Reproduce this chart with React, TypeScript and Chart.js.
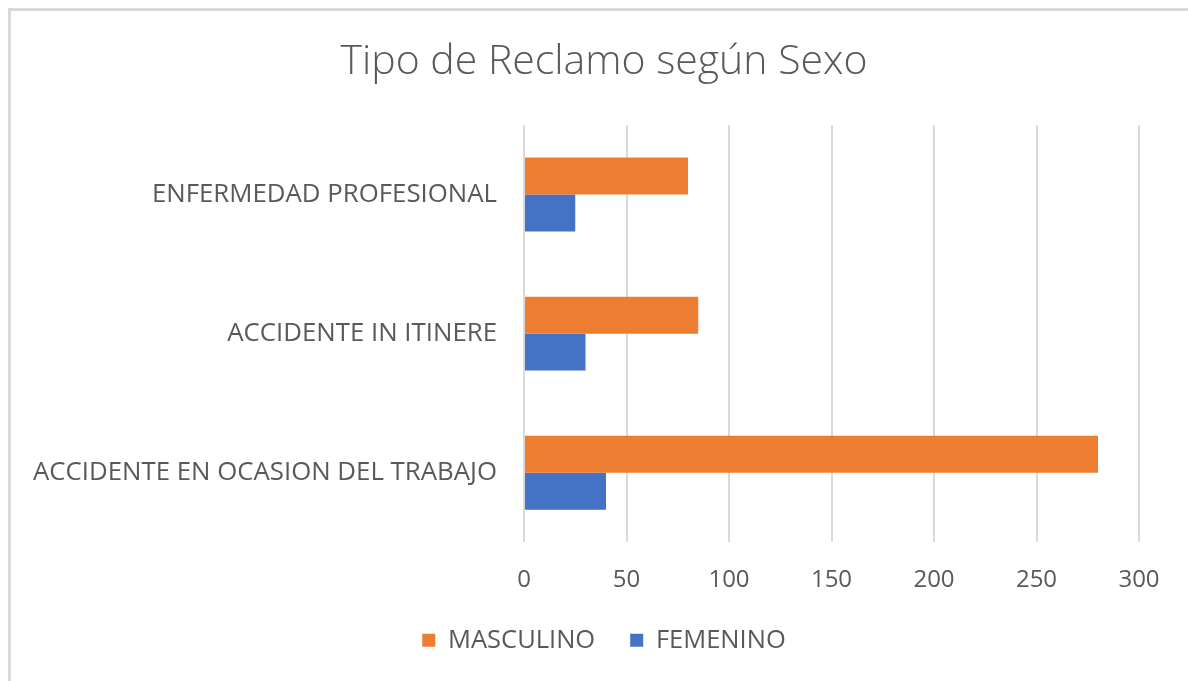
import React, { useEffect, useRef } from "react";
import { Chart, registerables } from "chart.js";

Chart.register(...registerables);

const titleText = "Tipo de Reclamo según Sexo";
const categories = ["ENFERMEDAD PROFESIONAL", "ACCIDENTE IN ITINERE", "ACCIDENTE EN OCASION DEL TRABAJO"];
const masculino = [80, 85, 280];
const femenino = [25, 30, 40];
const xTicks = [0, 50, 100, 150, 200, 250, 300];

const FONT = "'Open Sans', Lato, sans-serif";
const TEXT = "#595959";

export default function App() {
  const ref = useRef<HTMLCanvasElement | null>(null);
  useEffect(() => {
    if (!ref.current) return;
    const chart = new Chart(ref.current, {
      type: "bar",
      data: {
        labels: categories,
        datasets: [
          { label: "MASCULINO", data: masculino, backgroundColor: "#ED7D31", borderWidth: 0 },
          { label: "FEMENINO", data: femenino, backgroundColor: "#4472C4", borderWidth: 0 },
        ],
      },
      options: {
        indexAxis: "y",
        responsive: false,
        animation: false,
        maintainAspectRatio: false,
        datasets: { bar: { barPercentage: 1, categoryPercentage: 0.532 } },
        layout: { padding: { left: 0, right: 0, top: 0, bottom: 45 } },
        plugins: {
          title: {
            display: true,
            text: titleText,
            color: TEXT,
            font: { family: FONT, size: 41, weight: "300" },
            padding: { top: 29.4, bottom: 38.4 },
          },
          legend: {
            position: "bottom",
            labels: {
              color: TEXT,
              font: { family: FONT, size: 25.5 },
              boxWidth: 13,
              boxHeight: 13,
              padding: 35,
              generateLabels: (c: any) =>
                c.data.datasets.map((d: any, i: number) => ({
                  text: d.label,
                  fillStyle: d.backgroundColor,
                  strokeStyle: d.backgroundColor,
                  lineWidth: 0,
                  fontColor: TEXT,
                  datasetIndex: i,
                  hidden: false,
                })),
            },
          },
          tooltip: { enabled: false },
        },
        scales: {
          x: {
            min: 0,
            max: 300,
            afterBuildTicks: (s: any) => {
              s.ticks = xTicks.map((v) => ({ value: v }));
            },
            afterFit: (s: any) => {
              s.height = 50.25;
            },
            grid: { color: "#D9D9D9", lineWidth: 2, drawTicks: false },
            border: { display: false },
            ticks: { color: TEXT, font: { family: FONT, size: 24 }, padding: 24 },
          },
          y: {
            afterFit: (s: any) => {
              s.width = 516;
            },
            grid: { display: false, drawTicks: false },
            border: { display: false },
            ticks: { color: TEXT, font: { family: FONT, size: 25.8 }, padding: 27 },
          },
          spacer: {
            type: "linear",
            axis: "y",
            position: "right",
            display: true,
            afterFit: (s: any) => {
              s.width = 61;
            },
            grid: { display: false, drawTicks: false },
            border: { display: false },
            ticks: { display: false },
          },
        },
      },
    });
    return () => chart.destroy();
  }, []);

  return (
    <div style={{ position: "fixed", left: 0, top: 0, width: 1188, height: 681, overflow: "hidden", background: "#fff" }}>
      <div
        style={{
          position: "absolute",
          left: 8,
          top: 8,
          width: 1200,
          height: 710,
          borderTop: "3px solid #D9D9D9",
          borderLeft: "3px solid #D9D9D9",
        }}
      />
      <canvas ref={ref} width={1192} height={700} style={{ position: "absolute", left: 8, top: 8 }} />
    </div>
  );
}
